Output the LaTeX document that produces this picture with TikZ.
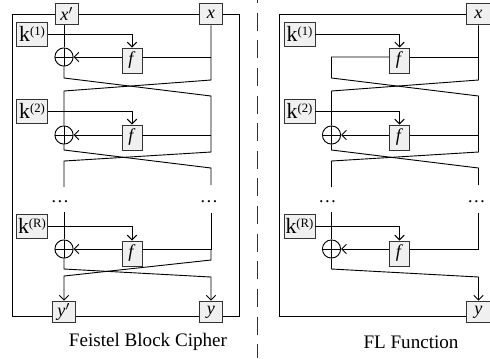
\documentclass[tikz,border=0pt]{standalone}
\usepackage{fontspec}
\setmainfont{Liberation Serif}
\usetikzlibrary{arrows.meta,calc,positioning}
\newcommand{\keysup}[1]{\raisebox{3.2pt}{\fontsize{7}{7}\selectfont(#1)}}
\tikzset{%
	iobox/.style    = {draw=black!80, fill=gray!12, rectangle, inner sep=0pt, minimum width=13pt, minimum height=12pt, font=\fontsize{10}{10}\selectfont},
	keybox/.style   = {draw=black!80, fill=gray!12, rectangle, inner sep=0pt, minimum width=17pt, minimum height=13.2pt, font=\fontsize{12}{12}\selectfont},
	fblock/.style   = {draw=black!80, fill=gray!12, rectangle, inner sep=0pt, minimum width=11pt, minimum height=13.8pt, font=\fontsize{10}{10}\selectfont},
	xor/.style      = {draw, circle, inner sep=0pt, minimum size=10pt, path picture={\draw (path picture bounding box.north) -- (path picture bounding box.south) (path picture bounding box.west) -- (path picture bounding box.east);}}, % Adder
	dots/.style     = {inner sep=0pt, font=\fontsize{10}{10}\selectfont},
	caption/.style  = {inner sep=0pt, font=\fontsize{10.5}{10.5}\selectfont},
	separator/.style= {draw=black!80, dash pattern=on 9.9pt off 5.3pt},
}

\begin{document}
\begin{tikzpicture}[x=0.55pt, y=-0.55pt, line width=0.5pt, >={Straight Barb[length=2.6pt,width=5.2pt]}]
	\useasboundingbox (0,0) rectangle (490,358);

	% Feistel block cipher
	\node[iobox] (xp) at (67,14) {\textit{x}$'$};
	\node[iobox] (xr) at (211,14) {\textit{x}};
	\node[iobox] (yp) at (64,312) {\textit{y}$'$};
	\node[iobox] (yr) at (211,312) {\textit{y}};
	\node[keybox] (k1) at (32,34) {k\keysup{1}};
	\node[keybox] (k2) at (32,111) {k\keysup{2}};
	\node[keybox] (kR) at (32,226) {k\keysup{R}};
	\node[xor] (o1) at (64,57) {};
	\node[xor] (o2) at (64,135) {};
	\node[xor] (oR) at (64,249) {};
	\node[fblock] (f1) at (132,60.5) {\textit{f}};
	\node[fblock] (f2) at (132,137.5) {\textit{f}};
	\node[fblock] (fR) at (132,253.5) {\textit{f}};
	\node[dots] (dl) at (60,202) {\dots};
	\node[dots] (dr) at (209,202) {\dots};
	\node[caption] (cap1) at (148,342) {Feistel Block Cipher};
	\coordinate (bl) at (12,316);
	\coordinate (tr) at (239,14);

	\draw (xp.west) -| (bl) -- (yp.west |- bl);
	\draw (yp.east |- bl) -- (yr.west |- bl);
	\draw (yr.east |- bl) -| (tr) -- (xr.east);
	\draw (xp.east) -- (xr.west);

	\draw[->] (k1) -| (f1.north);
	\draw (o1 -| xr) -- (f1.east |- o1);
	\draw[->] (f1.west |- o1) -- (o1.east);
	\draw (xp.south -| o1) -- (o1);
	\draw (o1) -- (64,78) -- (211,96) -- (211,152) -- (64,161) -- (64,187);
	\draw (xr) -- (211,80) -- (64,91) -- (o2);

	\draw[->] (k2) -| (f2.north);
	\draw (o2 -| xr) -- (f2.east |- o2);
	\draw[->] (f2.west |- o2) -- (o2.east);
	\draw (o2) -- (64,150) -- (211,168) -- (211,185);

	\draw[->] (kR) -| (fR.north);
	\draw (211,213) -- (oR -| xr) -- (fR.east |- oR);
	\draw[->] (fR.west |- oR) -- (oR.east);
	\draw (64,212) -- (oR);
	\draw[->] (oR) -- (64,269) -- (211,277) -- (yr);
	\draw[->] (oR -| xr) -- (211,260) -- (64,276) -- (yp);

	% separator
	\draw[separator] (257,-15) -- (257,358);

	% FL function
	\begin{scope}[shift={(267.5,0)}]
		\node[iobox] (gx) at (211,14) {\textit{x}};
		\node[iobox] (gy) at (211,312) {\textit{y}};
		\node[keybox] (gk1) at (32,34) {k\keysup{1}};
		\node[keybox] (gk2) at (32,111) {k\keysup{2}};
		\node[keybox] (gkR) at (32,226) {k\keysup{R}};
		\node[xor] (go2) at (64,135) {};
		\node[xor] (goR) at (64,249) {};
		\node[fblock] (gf1) at (132,60.5) {\textit{f}};
		\node[fblock] (gf2) at (132,137.5) {\textit{f}};
		\node[fblock] (gfR) at (132,253.5) {\textit{f}};
		\node[dots] (gdl) at (60,202) {\dots};
		\node[dots] (gdr) at (209,202) {\dots};
		\node[caption] (cap2) at (143.5,342) {FL Function};
		\coordinate (gbl) at (12,316);
		\coordinate (gc1) at (64,57);

		\draw (gx.west) -| (gbl) -- (gy.west |- gbl);

		\draw[->] (gk1) -| (gf1.north);
		\draw (gc1 -| gx) -- (gf1.east |- gc1);
		\draw (gf1.west |- gc1) -- (gc1) -- (64,78) -- (211,96) -- (211,152) -- (64,161) -- (64,187);
		\draw (gx) -- (211,80) -- (64,91) -- (go2);

		\draw[->] (gk2) -| (gf2.north);
		\draw (go2 -| gx) -- (gf2.east |- go2);
		\draw[->] (gf2.west |- go2) -- (go2.east);
		\draw (go2) -- (64,150) -- (211,168) -- (211,185);

		\draw[->] (gkR) -| (gfR.north);
		\draw (211,213) -- (goR -| gx) -- (gfR.east |- goR);
		\draw[->] (gfR.west |- goR) -- (goR.east);
		\draw (64,212) -- (goR);
		\draw[->] (goR) -- (64,269) -- (211,277) -- (gy);
	\end{scope}
\end{tikzpicture}
\end{document}
